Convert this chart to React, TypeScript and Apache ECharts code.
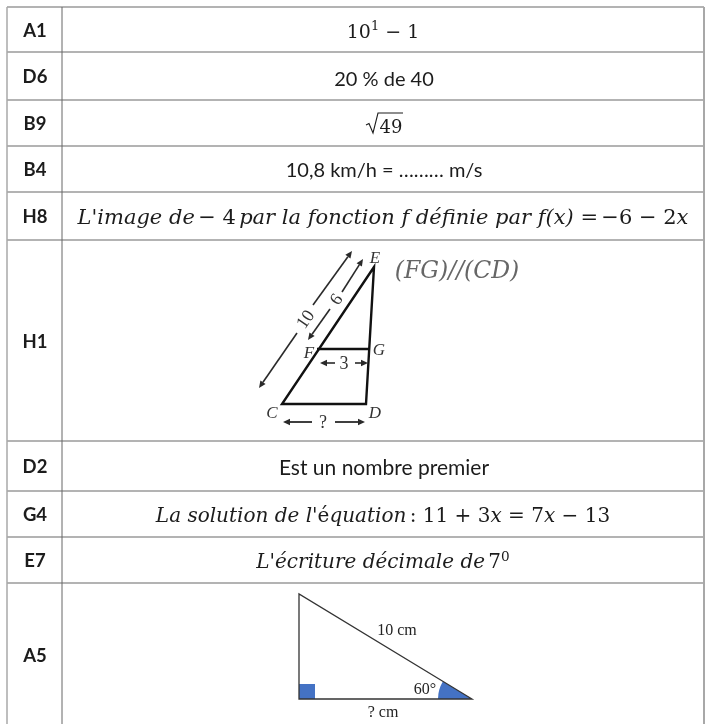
import React, { useEffect, useRef } from "react";
import * as echarts from "echarts";

const rowLabels = ["A1", "D6", "B9", "B4", "H8", "H1", "D2", "G4", "E7", "A5"];
const plainTexts: Record<string, string> = {
  D6: "20 % de 40",
  B4: "10,8 km/h = ……… m/s",
  D2: "Est un nombre premier",
};
const mathTexts: Record<string, string> = {
  A1: "{r|10}{s|1}{r| − 1}",
  H8: "{i|L'image de} {r|− 4} {i|par la fonction f définie par f(x) =} {r|−6 − 2}{i|x}",
  G4: "{i|La solution de l'}{r|é}{i|quation} {r|: 11 + 3}{i|x}{r| = 7}{i|x}{r| − 13}",
  E7: "{i|L'écriture décimale de} {r|7}{s|0}",
};
const rootValue = "49";
const parallelNote = "(FG)//(CD)";
const trapezoidVertexLabels = ["E", "F", "G", "C", "D"];
const trapezoidLengths = ["10", "6", "3", "?"];
const triangleLabels = ["10 cm", "60°", "? cm"];

// layout
const W = 709;
const H = 724;
const lineYs = [7, 52, 100, 146, 192, 240, 441, 491, 537, 583];
const xLeft = 7;
const xCol = 62;
const xRight = 704;
const cx = 383;
const INK = "#1c1c1c";
const BLUE = "#4472C4";
const SERIF = "'Liberation Serif', serif";
const MATH = "'DejaVu Serif', serif";
const SANS = "Lato, sans-serif";
const mathSize: Record<string, number> = { A1: 19, H8: 21, G4: 20, E7: 20 };
const plainSize: Record<string, number> = { D6: 20, B4: 20, D2: 21 };

const line = (x1: number, y1: number, x2: number, y2: number, stroke = INK, lineWidth = 1) => ({
  type: "line",
  shape: { x1, y1, x2, y2 },
  style: { stroke, lineWidth },
});

const text = (x: number, y: number, t: string, font: Record<string, unknown>, extra: Record<string, unknown> = {}) => ({
  type: "text",
  x,
  y,
  style: { text: t, align: "center", verticalAlign: "middle", fill: INK, ...font },
  ...extra,
});

const arrow = (x1: number, y1: number, x2: number, y2: number, w = 1.6, size = 7): any[] => {
  const a = Math.atan2(y2 - y1, x2 - x1);
  const px = Math.cos(a);
  const py = Math.sin(a);
  const bx = x2 - px * size;
  const by = y2 - py * size;
  return [
    line(x1, y1, bx, by, "#2a2a2a", w),
    {
      type: "polygon",
      shape: {
        points: [
          [x2, y2],
          [bx - py * size * 0.45, by + px * size * 0.45],
          [bx + py * size * 0.45, by - px * size * 0.45],
        ],
      },
      style: { fill: "#2a2a2a" },
    },
  ];
};

const richStyles = (size: number) => ({
  r: { fontFamily: MATH, fontSize: size, fill: INK },
  i: { fontFamily: MATH, fontStyle: "italic", fontSize: size, fill: INK },
  s: { fontFamily: MATH, fontSize: size * 0.68, fill: INK, padding: [0, 0, size * 0.5, 0] },
});

function buildGraphics() {
  const els: any[] = [];
  // table lines
  lineYs.forEach((y) => els.push(line(xLeft, y, xRight, y, "#9a9a9a", 1.5)));
  els.push(line(xLeft, lineYs[0], xLeft, H, "#a8a8a8", 1.5));
  els.push(line(xCol, lineYs[0], xCol, H, "#666666", 1));
  els.push(line(xRight, lineYs[0], xRight, H, "#a8a8a8", 2));

  const centers = lineYs.map((y, i) => (y + (i + 1 < lineYs.length ? lineYs[i + 1] : 727)) / 2);

  rowLabels.forEach((label, i) => {
    const y = centers[i];
    els.push(text(35, y, label, { fontFamily: SANS, fontWeight: "bold", fontSize: 18.5 }));
    if (plainTexts[label]) {
      els.push(text(cx + 1, y + (label === "D6" ? 2 : 0), plainTexts[label], { fontFamily: SANS, fontSize: plainSize[label] }));
    }
    if (mathTexts[label]) {
      els.push(text(cx, y + 1, mathTexts[label], { rich: richStyles(mathSize[label]) }));
    }
  });

  // square root
  els.push(text(391, 126, rootValue, { fontFamily: MATH, fontSize: 18 }));
  els.push({
    type: "polyline",
    shape: { points: [[366, 125], [369, 123.5], [373, 133], [378, 113], [403, 113]] },
    style: { stroke: INK, lineWidth: 1.1, fill: "none" },
  });

  // trapezoid figure
  const E = [374, 267];
  const C = [282, 404];
  const D = [366, 404];
  const F = [317, 349];
  const G = [369, 349];
  els.push({ type: "polygon", shape: { points: [E, C, D] }, style: { stroke: "#111", lineWidth: 2.4, fill: "none" } });
  els.push(line(F[0], F[1], G[0], G[1], "#111", 2.4));
  els.push(...arrow(297, 333, 259, 388), ...arrow(313, 305, 352, 251));
  els.push(...arrow(330, 309, 308, 340), ...arrow(342, 292, 363, 259));
  els.push(...arrow(335, 363, 320, 363), ...arrow(355, 363, 368, 363));
  els.push(...arrow(312, 422, 283, 422, 1.8), ...arrow(335, 422, 365, 422, 1.8));
  const vertexPos = [[375, 257], [309, 352], [379, 349], [272, 412], [375, 412]];
  trapezoidVertexLabels.forEach((t, i) =>
    els.push(text(vertexPos[i][0], vertexPos[i][1], t, { fontFamily: SERIF, fontStyle: "italic", fontSize: 17, fill: "#333" }))
  );
  const rot = (55 * Math.PI) / 180;
  els.push(text(305, 319, trapezoidLengths[0], { fontFamily: SERIF, fontSize: 18, fill: "#333" }, { rotation: rot }));
  els.push(text(336, 299, trapezoidLengths[1], { fontFamily: SERIF, fontSize: 18, fill: "#333" }, { rotation: rot }));
  els.push(text(344, 363, trapezoidLengths[2], { fontFamily: SERIF, fontSize: 18, fill: "#333" }));
  els.push(text(323, 422, trapezoidLengths[3], { fontFamily: SERIF, fontSize: 18, fill: "#333" }));
  els.push(text(457, 270, parallelNote, { fontFamily: MATH, fontStyle: "italic", fontSize: 23.5, fill: "#666" }));

  // right triangle figure
  const A = [299, 594];
  const B = [299, 699];
  const R = [472, 699];
  els.push({ type: "rect", shape: { x: 299, y: 684, width: 16, height: 15 }, style: { fill: BLUE } });
  els.push({
    type: "sector",
    shape: { cx: R[0], cy: R[1], r0: 0, r: 34, startAngle: Math.PI, endAngle: (211 * Math.PI) / 180, clockwise: true },
    style: { fill: BLUE },
  });
  els.push({ type: "polygon", shape: { points: [A, B, R] }, style: { stroke: "#333", lineWidth: 1.3, fill: "none" } });
  const triPos = [[397, 629], [425, 688], [383, 711]];
  triangleLabels.forEach((t, i) =>
    els.push(text(triPos[i][0], triPos[i][1], t, { fontFamily: SERIF, fontSize: 16, fill: "#222" }))
  );
  return els;
}

export default function App() {
  const ref = useRef<HTMLDivElement>(null);
  useEffect(() => {
    if (!ref.current) return;
    const chart = echarts.init(ref.current, undefined, { renderer: "svg" });
    chart.setOption({
      animation: false,
      backgroundColor: "#ffffff",
      graphic: { elements: buildGraphics() },
    });
    return () => chart.dispose();
  }, []);
  return (
    <div
      ref={ref}
      style={{ position: "absolute", left: 0, top: 0, width: W, height: H, filter: "blur(0.4px)" }}
    />
  );
}
